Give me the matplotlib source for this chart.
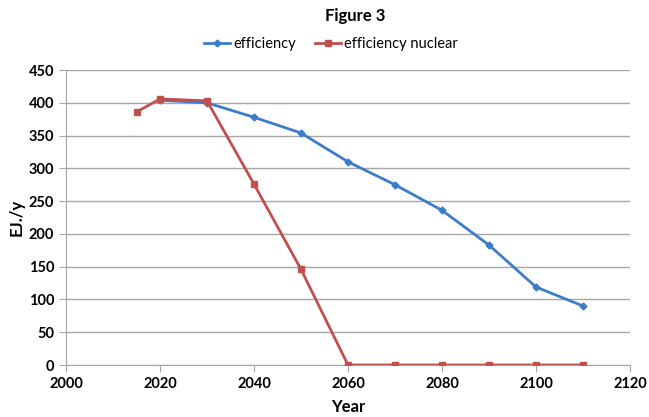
import matplotlib
matplotlib.use("Agg")
import matplotlib.pyplot as plt

plt.rcParams['font.family'] = ['Lato', 'DejaVu Sans']

years_eff = [2020, 2030, 2040, 2050, 2060, 2070, 2080, 2090, 2100, 2110]
efficiency = [404, 400, 378, 354, 310, 275, 236, 183, 119, 90]
years_nuc = [2015, 2020, 2030, 2040, 2050, 2060, 2070, 2080, 2090, 2100, 2110]
efficiency_nuclear = [386, 406, 403, 276, 146, 0, 0, 0, 0, 0, 0]

fig = plt.figure(figsize=(6.49, 4.17), dpi=100)
ax = fig.add_axes([0.1017, 0.1247, 0.869, 0.7073])

ax.plot(years_eff, efficiency, color='#3d7dc8', lw=2, marker='D', ms=3.5, label='efficiency', zorder=3)
ax.plot(years_nuc, efficiency_nuclear, color='#c0504d', lw=2, marker='s', ms=5, label='efficiency nuclear', zorder=4)

ax.set_xlim(2000, 2120)
ax.set_ylim(0, 450)
ax.set_xticks(range(2000, 2121, 20))
ax.set_yticks(range(0, 451, 50))
ax.grid(axis='y', color='#a6a6a6', lw=1)
ax.set_axisbelow(True)
for s in ['top', 'right']:
    ax.spines[s].set_visible(False)
for s in ['left', 'bottom']:
    ax.spines[s].set_color('#a6a6a6')
ax.tick_params(colors='#a6a6a6', labelcolor='black', labelsize=10.5, length=5)
for lbl in ax.get_xticklabels() + ax.get_yticklabels():
    lbl.set_fontweight('bold')

ax.set_xlabel('Year', fontsize=12, fontweight='bold', labelpad=6)
ax.set_ylabel('EJ./y', fontsize=12, fontweight='bold', labelpad=3)

fig.text(0.547, 0.962, 'Figure 3', ha='center', va='center', fontsize=12, fontweight='bold')
ax.legend(loc='center', bbox_to_anchor=(0.47, 1.088), ncol=2, frameon=False,
          fontsize=10.5, handlelength=1.8, columnspacing=1.3, handletextpad=0.2)

fig.savefig('out.png', dpi=100)
